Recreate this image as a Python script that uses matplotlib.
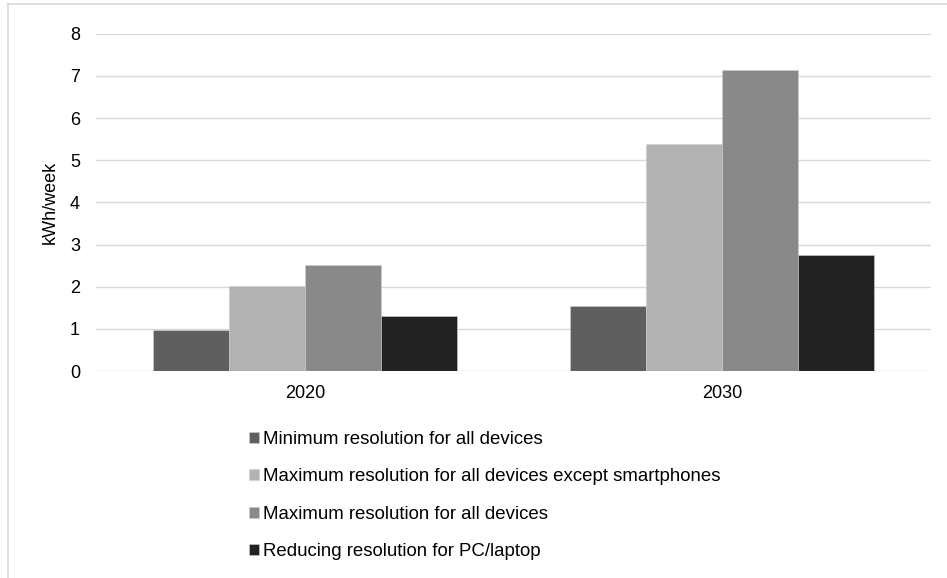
import matplotlib
matplotlib.use("Agg")
import matplotlib.pyplot as plt
import numpy as np

plt.rcParams['font.family'] = ['Liberation Sans', 'DejaVu Sans']

years = ["2020", "2030"]
series_names = [
    "Minimum resolution for all devices",
    "Maximum resolution for all devices except smartphones",
    "Maximum resolution for all devices",
    "Reducing resolution for PC/laptop",
]
min_res = [0.98, 1.53]
max_res_no_phone = [2.02, 5.39]
max_res_all = [2.51, 7.13]
reduced_pc = [1.31, 2.74]
series_values = [min_res, max_res_no_phone, max_res_all, reduced_pc]
colors = ["#5f5f5f", "#b2b2b2", "#898989", "#222222"]

W, H = 947, 578
fig = plt.figure(figsize=(W / 100, H / 100), dpi=100)
ax = fig.add_axes([96 / W, (H - 371) / H, (931 - 96) / W, (371 - 33.7) / H])

x = np.arange(len(years))
bar_w = 0.182
for i, (name, vals, c) in enumerate(zip(series_names, series_values, colors)):
    ax.bar(x + (i - 1.5) * bar_w, vals, width=bar_w, color=c,
           edgecolor="#cfcfcf", linewidth=0.4, label=name, zorder=3)

ax.set_xlim(-0.5, 1.5)
ax.set_ylim(0, 8)
ax.set_yticks(range(0, 9))
ax.set_xticks(x)
ax.set_xticklabels(years)
ax.grid(axis="y", color="#d9d9d9", linewidth=1.0, zorder=0)
for s in ax.spines.values():
    s.set_visible(False)
ax.tick_params(axis="both", length=0, labelsize=13, colors="#000000")
ax.tick_params(axis="y", pad=11.5)
ax.tick_params(axis="x", pad=10)
ax.set_ylabel("kWh/week", fontsize=13, labelpad=8)

handles, labels = ax.get_legend_handles_labels()
leg = fig.legend(handles, labels, loc="upper left",
                 bbox_to_anchor=(249 / W, 1 - 431 / H),
                 frameon=False, fontsize=13.4,
                 handlelength=0.55, handleheight=0.55, handletextpad=0.2,
                 labelspacing=1.1, borderpad=0, borderaxespad=0)

# light frame around the chart area
fig.add_artist(plt.Line2D([8 / W, 1], [1 - 4 / H, 1 - 4 / H], color="#d9d9d9", lw=1.2))
fig.add_artist(plt.Line2D([8 / W, 8 / W], [0, 1 - 4 / H], color="#d9d9d9", lw=1.2))

fig.savefig("out.png", dpi=100)
